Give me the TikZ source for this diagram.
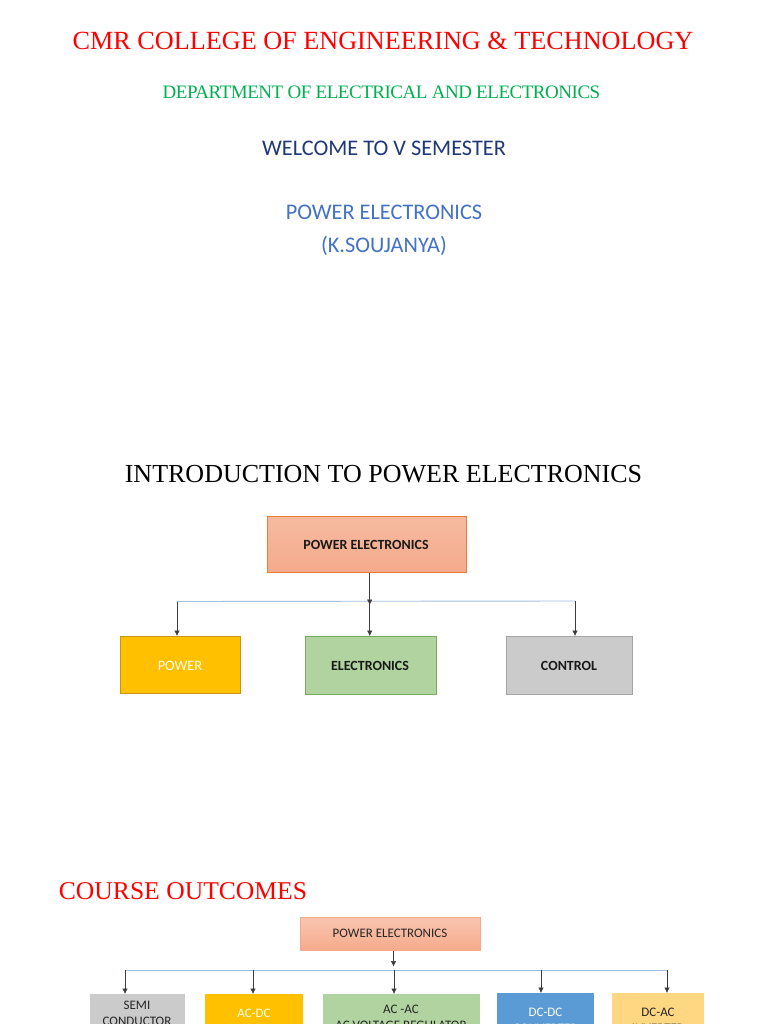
\documentclass[tikz,border=0pt]{standalone}
\usepackage{fontspec}
\setmainfont{Liberation Serif}
\newfontfamily\calfnt{Carlito}
\newfontfamily\tightfnt[LetterSpace=-2.5]{Liberation Serif}
\definecolor{myred}{RGB}{255,0,0}
\definecolor{mygreen}{RGB}{0,176,80}
\definecolor{mynavy}{RGB}{31,56,120}
\definecolor{myblue}{RGB}{68,114,196}
\definecolor{linkblue}{RGB}{160,190,222}
\definecolor{stemgray}{RGB}{60,60,60}
\definecolor{salmonedge}{RGB}{237,125,49}
\definecolor{salmon1}{RGB}{246,186,160}
\definecolor{salmon2}{RGB}{245,170,140}
\definecolor{salmon3}{RGB}{250,198,175}
\definecolor{amberedge}{RGB}{200,150,20}
\definecolor{amberfill}{RGB}{255,192,0}
\definecolor{leafedge}{RGB}{120,170,95}
\definecolor{leaffill}{RGB}{176,211,160}
\definecolor{silveredge}{RGB}{165,165,165}
\definecolor{silverfill}{RGB}{203,203,203}
\definecolor{skyfill}{RGB}{91,155,213}
\definecolor{sandfill}{RGB}{255,214,130}
\usetikzlibrary{arrows.meta}
\tikzset{
  headline/.style={inner sep=0pt,anchor=center},
  boxbase/.style={rectangle,inner sep=0pt,anchor=north west,line width=0.8pt},
  salmonbox/.style={boxbase,draw=salmonedge,top color=salmon1,bottom color=salmon2},
  salmonsoft/.style={boxbase,draw=salmon2,top color=salmon3,bottom color=salmon2},
  amberbox/.style={boxbase,draw=amberedge,fill=amberfill},
  leafbox/.style={boxbase,draw=leafedge,fill=leaffill},
  silverbox/.style={boxbase,draw=silveredge,fill=silverfill},
  skybox/.style={boxbase,draw=skyfill,fill=skyfill},
  sandbox/.style={boxbase,draw=sandfill,fill=sandfill},
  lbl/.style={inner sep=0pt,font=\calfnt,align=center,text=black!85},
  lblw/.style={lbl,text=white!92!yellow},
  barline/.style={draw=linkblue,line width=0.9pt},
  stemline/.style={draw=stemgray,line width=0.6pt},
  tipline/.style={stemline,-{Latex[length=5.5pt,width=5.5pt]}}
}
\begin{document}
\begin{tikzpicture}[x=1pt,y=-1pt]
\path[use as bounding box,clip] (0,0) rectangle (768,1024);
\fill[white] (0,0) rectangle (768,1024);

% headings
\node[headline,text=myred,font=\fontsize{26.2}{30}\selectfont] (t1) at (383,40.5) {CMR COLLEGE OF ENGINEERING \& TECHNOLOGY};
\node[headline,text=mygreen,font=\tightfnt\fontsize{19}{22}\selectfont] (t2) at (381.5,92) {DEPARTMENT OF ELECTRICAL AND ELECTRONICS};
\node[headline,text=mynavy,font=\calfnt\fontsize{22.3}{26}\selectfont] (t3) at (384,148) {WELCOME TO V SEMESTER};
\node[headline,text=myblue,font=\calfnt\fontsize{22.3}{33.5}\selectfont,align=center] (t4) at (384,230.5) {POWER ELECTRONICS\\(K.SOUJANYA)};
\node[headline,text=black,font=\fontsize{26}{30}\selectfont] (t5) at (383.5,474.5) {INTRODUCTION TO POWER ELECTRONICS};
\node[headline,text=myred,font=\fontsize{25.6}{30}\selectfont] (t6) at (183,891.5) {COURSE OUTCOMES};

% first tree
\node[salmonbox,minimum width=199pt,minimum height=56pt] (pe) at (267,516) {};
\node[lbl,font=\calfnt\bfseries\fontsize{14}{15}\selectfont,text=black!90] (pel) at (366,545) {POWER ELECTRONICS};
\node[amberbox,minimum width=120pt,minimum height=57pt] (pow) at (120,636) {};
\node[lblw,font=\calfnt\fontsize{14.4}{15}\selectfont] (powl) at (180,666) {POWER};
\node[leafbox,minimum width=131pt,minimum height=58pt] (ele) at (305,636) {};
\node[lbl,font=\calfnt\bfseries\fontsize{14}{15}\selectfont,text=black!90] (elel) at (370,666) {ELECTRONICS};
\node[silverbox,minimum width=126pt,minimum height=58pt] (con) at (505.5,636) {};
\node[lbl,font=\calfnt\bfseries\fontsize{14}{15}\selectfont,text=black!90] (conl) at (569,666) {CONTROL};

\coordinate (j1) at (369.7,601);
\coordinate (j1l) at (177,601.5);
\coordinate (j1r) at (575,601);
\draw[barline] (j1l) -- (j1r);
\draw[tipline] (pe.south -| j1) -- ([yshift=-4pt]j1);
\draw[tipline] (j1) -- (ele.north -| j1);
\draw[tipline] (j1l) -- (pow.north -| j1l);
\draw[tipline] (j1r) -- (con.north -| j1r);

% second tree
\node[salmonsoft,minimum width=180pt,minimum height=33pt] (pb) at (300,917) {};
\node[lbl,font=\calfnt\fontsize{13}{15}\selectfont] (pbl) at (390,933) {POWER ELECTRONICS};
\node[silverbox,draw=silverfill,minimum width=94pt,minimum height=60pt] (semi) at (90,994) {};
\node[lbl,font=\calfnt\fontsize{13}{16}\selectfont,anchor=north] (semil) at (137,1001) {SEMI\\CONDUCTOR};
\node[amberbox,draw=amberfill,minimum width=97pt,minimum height=60pt] (acdc) at (205,994) {};
\node[lblw,font=\calfnt\fontsize{13}{15}\selectfont] (acdcl) at (254,1013) {AC-DC};
\node[leafbox,draw=leaffill,minimum width=156pt,minimum height=60pt] (acac) at (323,994) {};
\node[lbl,font=\calfnt\fontsize{13}{16}\selectfont,anchor=north] (acacl) at (401,1005) {AC -AC\\AC VOLTAGE REGULATOR};
\node[skybox,minimum width=96pt,minimum height=60pt] (dcdc) at (497,993) {};
\node[lblw,font=\calfnt\fontsize{13}{16}\selectfont,anchor=north] (dcdcl) at (545.5,1008) {DC-DC\\CONVERTER};
\node[sandbox,minimum width=91pt,minimum height=60pt] (dcac) at (612,993) {};
\node[lbl,font=\calfnt\fontsize{13}{16}\selectfont,anchor=north] (dcacl) at (658,1008) {DC-AC\\INVERTER};

\coordinate (j2) at (393.5,969.5);
\coordinate (j2a) at (125,970);
\coordinate (j2b) at (253,970);
\coordinate (j2c) at (394,970);
\coordinate (j2d) at (541,970);
\coordinate (j2e) at (667,970);
\draw[barline] (j2a) -- (j2e);
\draw[tipline] (pb.south -| j2) -- ([yshift=3pt]j2);
\draw[tipline] (j2a) -- (semi.north -| j2a);
\draw[tipline] (j2b) -- (acdc.north -| j2b);
\draw[tipline] (j2c) -- (acac.north -| j2c);
\draw[tipline] (j2d) -- (dcdc.north -| j2d);
\draw[tipline] (j2e) -- (dcac.north -| j2e);
\end{tikzpicture}
\end{document}
